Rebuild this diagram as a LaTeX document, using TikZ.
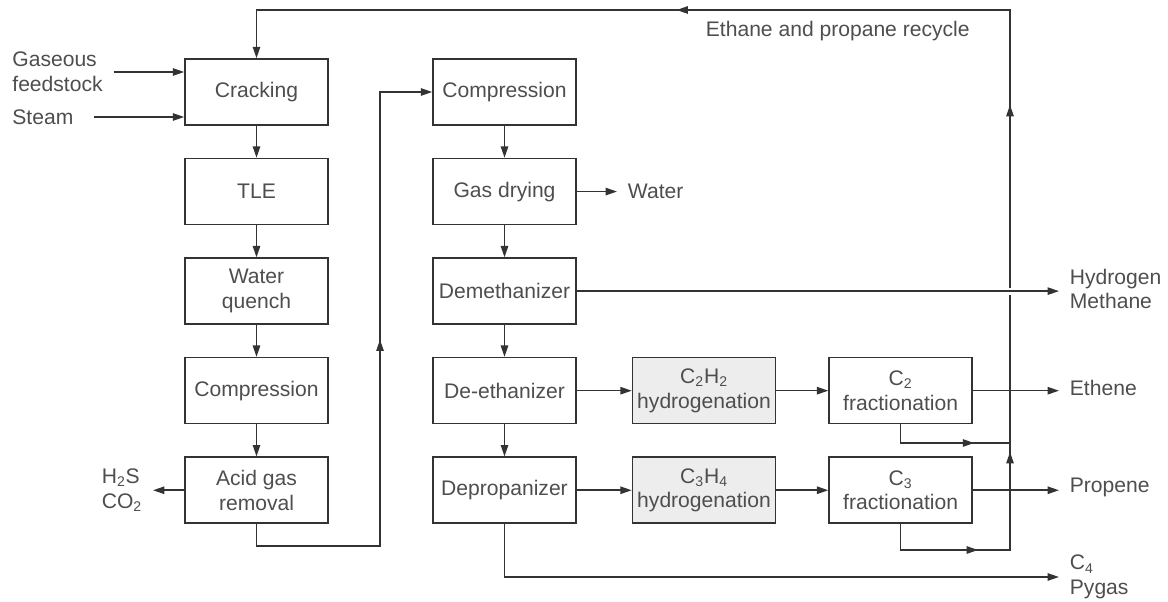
\documentclass[tikz,border=0pt]{standalone}
\usepackage{fontspec}
\setmainfont{Liberation Sans}
\usetikzlibrary{arrows.meta, positioning, decorations.markings}

\definecolor{inkgray}{HTML}{333333}
\definecolor{txtgray}{HTML}{4E4E4E}
\definecolor{boxfill}{HTML}{EDEDED}

\begin{document}
\begin{tikzpicture}[
    x=0.02cm, y=0.02cm,
    >={Triangle[length=6.5pt, width=4.2pt]},
    node distance=0.64cm and 1.1cm,
    every node/.style={font=\fontsize{12}{14}\selectfont, text=txtgray},
    unit/.style={draw=inkgray, line width=0.9pt, minimum width=2.86cm,
                 minimum height=1.32cm, align=center, inner sep=1pt},
    hydro/.style={unit, fill=boxfill},
    stream/.style={align=left, anchor=west, inner xsep=6pt, inner ysep=1pt},
    flow/.style={draw=inkgray, line width=0.9pt},
    midarrow/.style={postaction={decorate}, decoration={markings,
        mark=at position #1 with {\arrow{>}}}}
  ]
  \useasboundingbox (0,0) rectangle (1168,-601);

  % cracking and cleanup train
  \node[unit] (crack) at (256.5,-92) {Cracking};
  \node[unit, below=of crack] (tle) {TLE};
  \node[unit, below=of tle] (quench) {Water\\quench};
  \node[unit, below=of quench] (compone) {Compression};
  \node[unit, below=of compone] (acid) {Acid gas\\removal};

  % separation train
  \node[unit] (comptwo) at (504.5,-92) {Compression};
  \node[unit, below=of comptwo] (dry) {Gas drying};
  \node[unit, below=of dry] (demeth) {Demethanizer};
  \node[unit, below=of demeth] (deeth) {De-ethanizer};
  \node[unit, below=of deeth] (deprop) {Depropanizer};
  \node[hydro, right=1.1cm of deeth] (hydtwo)
    {C\textsubscript{2}H\textsubscript{2}\\hydrogenation};
  \node[hydro, right=1.1cm of deprop] (hydthree)
    {C\textsubscript{3}H\textsubscript{4}\\hydrogenation};
  \node[unit, right=1.04cm of hydtwo] (fractwo) {C\textsubscript{2}\\fractionation};
  \node[unit, right=1.04cm of hydthree] (fracthree) {C\textsubscript{3}\\fractionation};

  % feeds and products
  \node[stream] (feed) at (1.5,-72) {Gaseous\\feedstock};
  \node[stream] (steam) at (1.5,-117) {Steam};
  \node[stream] (water) at (617,-191) {Water};
  \node[stream] (hm) at (1059,-289) {Hydrogen\\Methane};
  \node[stream] (ethene) at (1059,-388) {Ethene};
  \node[stream] (propene) at (1059,-487) {Propene};
  \node[stream] (pyg) at (1059,-577) {C\textsubscript{4}\\Pygas};
  \node[stream, anchor=east] (acidgas) at (153,-490)
    {H\textsubscript{2}S\\CO\textsubscript{2}};
  \node[stream] (recyc) at (695,-31) {Ethane and propane recycle};

  \coordinate (lo) at (380,-546);
  \coordinate (jt) at (1010,-443);
  \coordinate (rb) at (1010,-550);
  \coordinate (rt) at (1010,-10);

  \foreach \a/\b in {crack/tle, tle/quench, quench/compone, compone/acid,
                     comptwo/dry, dry/demeth, demeth/deeth, deeth/deprop,
                     deeth/hydtwo, hydtwo/fractwo, deprop/hydthree,
                     hydthree/fracthree}
    \draw[flow, ->] (\a) -- (\b);

  \draw[flow, ->] (feed.east) -- (crack.west |- feed.east);
  \draw[flow, ->, shorten <=0.2cm] (steam.east) -- (crack.west |- steam.east);
  \draw[flow, ->] (dry.east) -- (dry.east -| water.west);
  \draw[flow, ->] (acid.west) -- (acid.west -| acidgas.east);
  \draw[flow, ->] (fractwo.east) -- (fractwo.east -| ethene.west);
  \draw[flow, ->] (fracthree.east) -- (fracthree.east -| propene.west);
  \draw[flow, ->] (deprop.south) |- (pyg.west);
  \draw[flow, ->, midarrow=0.54] (acid.south) |- (lo) |- (comptwo.west);

  % recycle loop
  \draw[flow, midarrow=0.72] (fractwo.south) |- (jt);
  \draw[flow, ->, postaction={decorate}, decoration={markings,
      mark=at position 0.070 with {\arrow{>}},
      mark=at position 0.158 with {\arrow{>}},
      mark=at position 0.393 with {\arrow{>}},
      mark=at position 0.683 with {\arrow{>}}}]
    (fracthree.south) |- (rb) -- (rt) -| (crack.north);
  \draw[flow, ->, preaction={draw=white, line width=4pt, -}]
    (demeth.east) -- (demeth.east -| hm.west);
\end{tikzpicture}
\end{document}
